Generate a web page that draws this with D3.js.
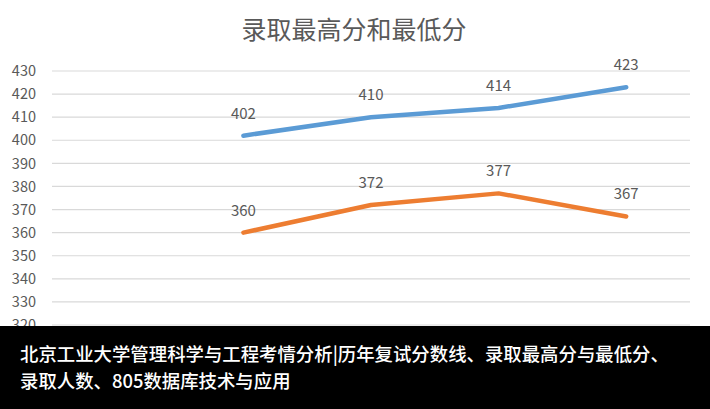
<!DOCTYPE html>
<html>
<head>
<meta charset="utf-8">
<script src="https://cdn.jsdelivr.net/npm/d3@7"></script>
<style>
  html, body { margin: 0; padding: 0; background: #fff; }
  svg { display: block; font-family: "Noto Sans CJK SC", "Noto Sans", sans-serif; }
</style>
</head>
<body>
<div id="chart"></div>
<script>
// données
var categories = ["", "2017", "2018", "2019", "2020"];
var maxScores = [null, 402, 410, 414, 423];
var minScores = [null, 360, 372, 377, 367];
var yTicks = [320, 330, 340, 350, 360, 370, 380, 390, 400, 410, 420, 430];
var title = "录取最高分和最低分";
var caption = ["北京工业大学管理科学与工程考情分析|历年复试分数线、录取最高分与最低分、",
               "录取人数、805数据库技术与应用"];

var width = 710, height = 409;
var margin = {left: 52, right: 20, top: 71, bottom: 86};

var svg = d3.select("#chart").append("svg")
    .attr("width", width)
    .attr("height", height);

var x = d3.scaleBand()
    .domain(categories.map(function(d, i) { return i; }))
    .range([margin.left, width - margin.right]);

var y = d3.scaleLinear()
    .domain([320, 430])
    .range([height - margin.bottom + 2, margin.top]);

// titre
svg.append("text")
    .attr("x", 354)
    .attr("y", 39)
    .attr("text-anchor", "middle")
    .style("font-size", "25px")
    .style("fill", "#595959")
    .text(title);

// grille
svg.append("g")
    .selectAll("line")
    .data(yTicks)
    .enter()
    .append("line")
        .attr("x1", margin.left)
        .attr("x2", width - margin.right)
        .attr("y1", function(d) { return y(d); })
        .attr("y2", function(d) { return y(d); })
        .style("stroke", "#d9d9d9")
        .style("stroke-width", 1.2);

// axe y
var yAxis = svg.append("g")
    .attr("transform", "translate(36,0)")
    .call(d3.axisLeft(y).tickValues(yTicks).tickSize(0).tickPadding(0));
yAxis.select(".domain").remove();
yAxis.selectAll("text")
    .style("font-size", "14.5px")
    .style("fill", "#595959")
    .style("font-family", "'Noto Sans CJK SC', sans-serif");

var line = d3.line()
    .defined(function(d) { return d != null; })
    .x(function(d, i) { return x(i) + x.bandwidth() / 2; })
    .y(function(d) { return y(d); });

var series = [
    {values: maxScores, color: "#5B9BD5"},
    {values: minScores, color: "#ED7D31"}
];

series.forEach(function(s) {
    svg.append("path")
        .datum(s.values)
        .attr("d", line)
        .style("fill", "none")
        .style("stroke", s.color)
        .style("stroke-width", 4.5)
        .style("stroke-linecap", "round")
        .style("stroke-linejoin", "round");

    svg.append("g")
        .selectAll("text")
        .data(s.values.map(function(v, i) { return {v: v, i: i}; }).filter(function(d) { return d.v != null; }))
        .enter()
        .append("text")
            .attr("x", function(d) { return x(d.i) + x.bandwidth() / 2; })
            .attr("y", function(d) { return y(d.v) - 17; })
            .attr("text-anchor", "middle")
            .style("font-size", "15px")
            .style("fill", "#595959")
            .text(function(d) { return d.v; });
});

// bandeau noir (cache l'axe des x)
svg.append("rect")
    .attr("x", 0)
    .attr("y", 326)
    .attr("width", width)
    .attr("height", height - 326)
    .style("fill", "#000");

svg.append("g")
    .selectAll("text")
    .data(caption)
    .enter()
    .append("text")
        .attr("x", 20)
        .attr("y", function(d, i) { return 361 + i * 27; })
        .style("font-size", "18.4px")
        .style("font-weight", 500)
        .style("fill", "#fff")
        .text(function(d) { return d; });
</script>
</body>
</html>
